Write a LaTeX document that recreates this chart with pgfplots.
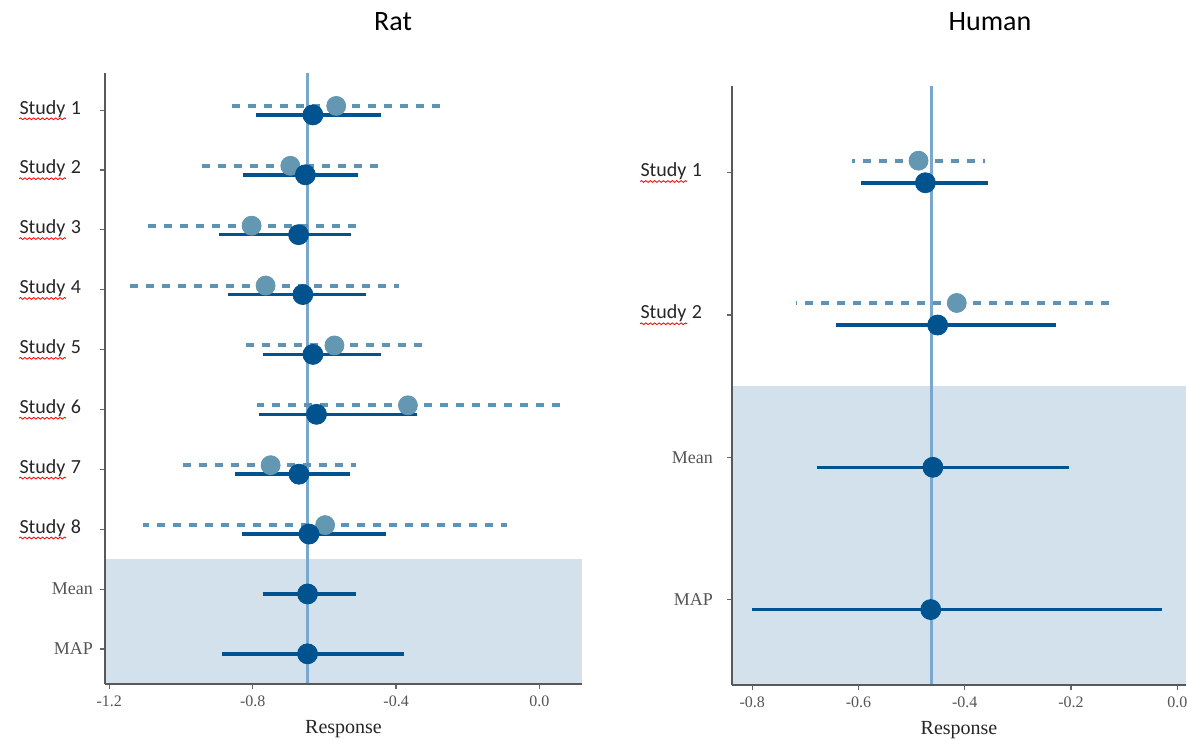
\documentclass[border=0pt]{standalone}
\usepackage{pgfplots}
\pgfplotsset{compat=1.18}
\usepackage{pgfplotstable}
\usepackage{fontspec}
\setmainfont{Liberation Serif}
\newfontfamily\calfont{Carlito}
\usetikzlibrary{decorations.pathmorphing}
\definecolor{dark}{RGB}{0,83,143}
\definecolor{light}{RGB}{100,151,177}
\definecolor{dashc}{RGB}{94,147,181}
\definecolor{vline}{RGB}{120,168,205}
\definecolor{band}{RGB}{210,225,236}
\definecolor{tickc}{RGB}{85,85,85}

\newcommand{\st}[1]{{\calfont\fontsize{10}{12}\selectfont\color{black!85}\tikz[baseline=0pt]{\node[inner sep=0pt,anchor=base west,font=\calfont\fontsize{10}{12}\selectfont,text=black!85](w) at (0,0){Study};\draw[red,line width=0.4pt,decorate,decoration={snake,amplitude=0.45pt,segment length=2.2pt}] (0,-2.4pt) -- (w.east|-0,-2.4pt);}~#1}}

\pgfplotstableread{
y lo m hi
10 -0.860 -0.567 -0.270
9 -0.944 -0.695 -0.443
8 -1.111 -0.803 -0.495
7 -1.154 -0.764 -0.393
6 -0.821 -0.572 -0.321
5 -0.789 -0.367 0.061
4 -0.994 -0.750 -0.511
3 -1.107 -0.598 -0.092
}\ratobs
\pgfplotstableread{
y lo m hi
10 -0.791 -0.632 -0.443
9 -0.826 -0.653 -0.505
8 -0.895 -0.672 -0.525
7 -0.870 -0.660 -0.484
6 -0.772 -0.632 -0.443
5 -0.782 -0.622 -0.343
4 -0.848 -0.671 -0.529
3 -0.829 -0.643 -0.427
2 -0.772 -0.647 -0.513
1 -0.885 -0.647 -0.379
}\ratpost
\pgfplotstableread{
y lo m hi
4 -0.612 -0.487 -0.362
3 -0.717 -0.415 -0.126
}\humobs
\pgfplotstableread{
y lo m hi
4 -0.596 -0.474 -0.356
3 -0.642 -0.451 -0.228
2 -0.678 -0.460 -0.204
1 -0.801 -0.464 -0.029
}\humpost

\pgfplotsset{
  fp/.style={
    scale only axis, anchor=south west,
    axis lines*=left,
    axis line style={draw=black!65, line width=0.9pt},
    tick align=outside, major tick length=2.5pt,
    tick style={draw=black!60, line width=0.6pt},
    ticklabel style={font=\fontsize{8}{9}\selectfont, text=tickc},
    yticklabel style={font=\fontsize{9}{10}\selectfont, text=tickc},
    axis on top,
    xlabel=Response,
    xlabel style={font=\fontsize{10}{12}\selectfont, text=black!85},
  },
  obsbar/.style={only marks, mark=none, forget plot,
    error bars/.cd, x dir=both, x explicit, error mark=none,
    error bar style={dashc, line width=2pt, dash pattern=on 4pt off 4pt}},
  postbar/.style={only marks, mark=none, forget plot,
    error bars/.cd, x dir=both, x explicit, error mark=none,
    error bar style={dark, line width=1.8pt}},
  obsmark/.style={only marks, mark=*, mark size=4.75pt, color=light, mark options={fill=light, draw=light}},
  postmark/.style={only marks, mark=*, mark size=5pt, color=dark, mark options={fill=dark, draw=dark}},
}

\begin{document}
\begin{tikzpicture}
\useasboundingbox (0,0) rectangle (593.5pt,369.5pt);
\fill[white] (0,0) rectangle (593.5pt,369.5pt);
\node[font=\calfont\fontsize{14}{16}\selectfont] at (196.5pt,358.5pt) {Rat};
\node[font=\calfont\fontsize{14}{16}\selectfont] at (495pt,358.5pt) {Human};

\begin{axis}[fp,
  at={(52.5pt,27.5pt)}, width=238.5pt, height=305.5pt,
  xmin=-1.212, xmax=0.1186, ymin=0.416, ymax=10.62,
  xtick={-1.2,-0.8,-0.4,0}, xticklabels={-1.2,-0.8,-0.4,0.0},
  ytick={1,2,3,4,5,6,7,8,9,10},
  yticklabels={MAP,Mean,{\st{8}\hspace*{6pt}},{\st{7}\hspace*{6pt}},{\st{6}\hspace*{6pt}},{\st{5}\hspace*{6pt}},{\st{4}\hspace*{6pt}},{\st{3}\hspace*{6pt}},{\st{2}\hspace*{6pt}},{\st{1}\hspace*{6pt}}},
]
\fill[band] (axis cs:-1.212,0.416) rectangle (axis cs:0.1186,2.5);
\addplot[vline, line width=1.5pt] coordinates {(-0.646,0.416) (-0.646,10.62)};
\addplot[obsbar] table[x=m, y expr=\thisrow{y}+0.07, x error plus expr=\thisrow{hi}-\thisrow{m}, x error minus expr=\thisrow{m}-\thisrow{lo}] {\ratobs};
\addplot[obsmark] table[x=m, y expr=\thisrow{y}+0.07] {\ratobs};
\addplot[postbar] table[x=m, y expr=\thisrow{y}-0.08, x error plus expr=\thisrow{hi}-\thisrow{m}, x error minus expr=\thisrow{m}-\thisrow{lo}] {\ratpost};
\addplot[postmark] table[x=m, y expr=\thisrow{y}-0.08] {\ratpost};
\end{axis}

\begin{axis}[fp,
  at={(366pt,27pt)}, width=227pt, height=299.5pt,
  xmin=-0.838, xmax=0.0164, ymin=0.40, ymax=4.61,
  xtick={-0.8,-0.6,-0.4,-0.2,0}, xticklabels={-0.8,-0.6,-0.4,-0.2,0.0},
  ytick={1,2,3,4},
  yticklabels={{MAP\hspace*{3.5pt}},{Mean\hspace*{3.5pt}},{\st{2}\hspace*{9pt}},{\st{1}\hspace*{9pt}}},
]
\fill[band] (axis cs:-0.838,0.40) rectangle (axis cs:0.0164,2.5);
\addplot[vline, line width=1.5pt] coordinates {(-0.463,0.40) (-0.463,4.61)};
\addplot[obsbar] table[x=m, y expr=\thisrow{y}+0.085, x error plus expr=\thisrow{hi}-\thisrow{m}, x error minus expr=\thisrow{m}-\thisrow{lo}] {\humobs};
\addplot[obsmark] table[x=m, y expr=\thisrow{y}+0.085] {\humobs};
\addplot[postbar] table[x=m, y expr=\thisrow{y}-0.07, x error plus expr=\thisrow{hi}-\thisrow{m}, x error minus expr=\thisrow{m}-\thisrow{lo}] {\humpost};
\addplot[postmark] table[x=m, y expr=\thisrow{y}-0.07] {\humpost};
\end{axis}
\end{tikzpicture}
\end{document}
